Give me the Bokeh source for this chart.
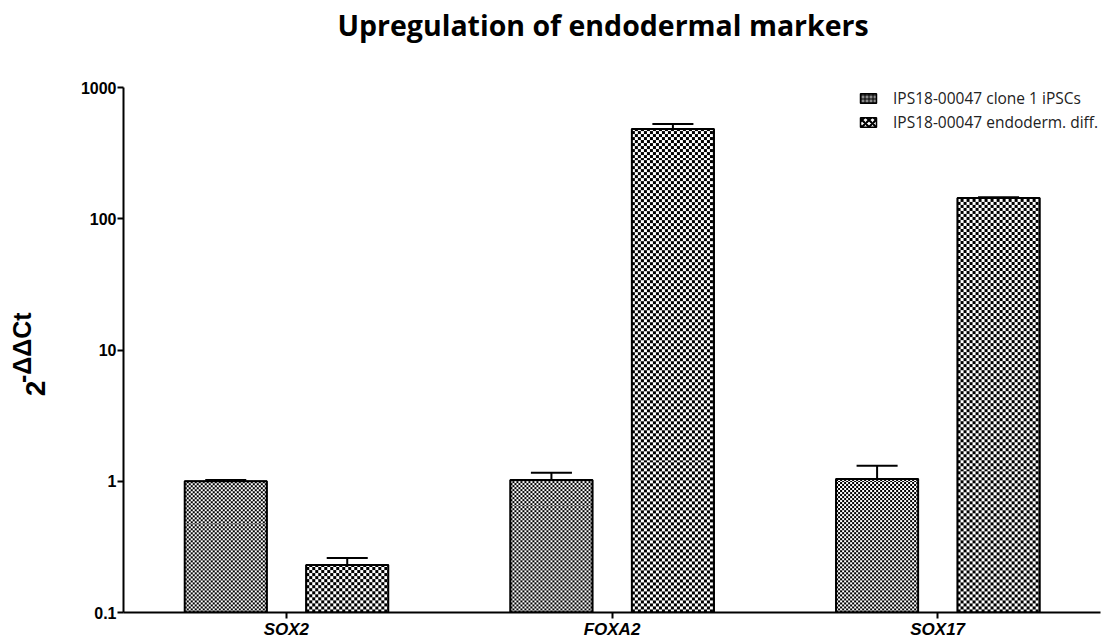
import numpy as np
from math import pi

from bokeh.plotting import figure
from bokeh.models import (FactorRange, Range1d, FixedTicker, CustomJSTickFormatter,
                          Label, Legend, LegendItem, ColumnDataSource, Title)
from bokeh.transform import dodge
from bokeh.embed import file_html
from bokeh.resources import INLINE

# ---------------- data ----------------
genes = ["SOX2", "FOXA2", "SOX17"]
series_names = ["IPS18-00047 clone 1 iPSCs", "IPS18-00047 endoderm. diff."]
ipsc_mean = [1.00, 1.02, 1.04]
ipsc_err_top = [1.02, 1.16, 1.31]
endo_mean = [0.23, 482, 144]
endo_err_top = [0.26, 526, 146]
y_ticks = [0.1, 1, 10, 100, 1000]
title_text = "Upregulation of endodermal markers"

# ---------------- layout / style ----------------
W, H = 1106, 641
BL, BR, BT, BB = 123, 6, 87, 27
y_lo, y_hi = 0.1, 1000
off1, off2, bw, cap = -0.186, 0.187, 0.252, 0.063

frame_w = W - BL - BR
frame_h = H - BT - BB
px_per_cat = frame_w / len(genes)
px_per_decade = frame_h / np.log10(y_hi / y_lo)


def checker(top, cell):
    h = max(1, int(round(np.log10(top / y_lo) * px_per_decade)))
    w = int(round(bw * px_per_cat))
    yy, xx = np.mgrid[0:h, 0:w]
    dark = ((xx // cell + yy // cell) % 2) == 0
    return np.where(dark, np.uint32(0xFF000000), np.uint32(0xFFFFFFFF)).astype(np.uint32)


src = ColumnDataSource(dict(
    gene=genes, ipsc=ipsc_mean, ipsc_err=ipsc_err_top, endo=endo_mean, endo_err=endo_err_top,
    ipsc_dh=[v - y_lo for v in ipsc_mean], endo_dh=[v - y_lo for v in endo_mean],
    ipsc_img=[checker(v, 2) for v in ipsc_mean],
    endo_img=[checker(v, 3) for v in endo_mean]))

p = figure(width=W, height=H,
           x_range=FactorRange(factors=genes, range_padding=0),
           y_range=Range1d(y_lo, y_hi), y_axis_type="log",
           output_backend="svg", toolbar_location=None,
           min_border_left=BL, min_border_right=BR, min_border_top=BT,
           min_border_bottom=BB)

# error bars (upper only)
for off, mkey, key in ((off1, "ipsc", "ipsc_err"), (off2, "endo", "endo_err")):
    p.segment(x0=dodge("gene", off, range=p.x_range), y0=mkey,
              x1=dodge("gene", off, range=p.x_range), y1=key,
              source=src, line_color="black", line_width=2)
    p.segment(x0=dodge("gene", off - cap, range=p.x_range), y0=key,
              x1=dodge("gene", off + cap, range=p.x_range), y1=key,
              source=src, line_color="black", line_width=2)

# hatched bars (also used for the legend swatches)
r1 = p.vbar(x=dodge("gene", off1, range=p.x_range), top="ipsc", bottom=y_lo, width=bw,
            source=src, fill_color="#8a8a8a", line_color="black", line_width=1.5,
            hatch_pattern="cross", hatch_color="black", hatch_scale=4, hatch_weight=1)
r2 = p.vbar(x=dodge("gene", off2, range=p.x_range), top="endo", bottom=y_lo, width=bw,
            source=src, fill_color="white", line_color="black", line_width=1.5,
            hatch_pattern="diagonal_cross", hatch_color="black", hatch_scale=7, hatch_weight=2.2)

# checkerboard fill of the bars
p.image_rgba(image="ipsc_img", x=dodge("gene", off1 - bw / 2, range=p.x_range), y=y_lo,
             dw=bw, dh="ipsc_dh", source=src)
p.image_rgba(image="endo_img", x=dodge("gene", off2 - bw / 2, range=p.x_range), y=y_lo,
             dw=bw, dh="endo_dh", source=src)

# bar outlines
for off, key in ((off1, "ipsc"), (off2, "endo")):
    p.vbar(x=dodge("gene", off, range=p.x_range), top=key, bottom=y_lo, width=bw,
           source=src, fill_color=None, line_color="black", line_width=2)

# axes
p.xgrid.visible = False
p.ygrid.visible = False
p.outline_line_color = None

xa = p.xaxis[0]
xa.axis_line_width = 2
xa.major_tick_line_width = 2
xa.major_tick_out = 6
xa.major_tick_in = 0
xa.minor_tick_line_color = None
xa.major_label_text_font = "Liberation Sans"
xa.major_label_text_font_style = "bold italic"
xa.major_label_text_font_size = "17px"
xa.major_label_text_color = "black"
xa.major_label_standoff = 1

ya = p.yaxis[0]
ya.ticker = FixedTicker(ticks=y_ticks, minor_ticks=[])
ya.formatter = CustomJSTickFormatter(code="return tick >= 1 ? tick.toFixed(0) : tick.toFixed(1);")
ya.axis_line_width = 2
ya.major_tick_line_width = 2
ya.major_tick_out = 6
ya.major_tick_in = 0
ya.minor_tick_line_color = None
ya.major_label_text_font = "Liberation Sans"
ya.major_label_text_font_style = "bold"
ya.major_label_text_font_size = "16px"
ya.major_label_text_color = "black"
ya.major_label_standoff = 1

# spacer between frame and title, then the title (outermost)
p.add_layout(Title(text="\u00a0", text_font_size="10px", standoff=31), "above")
p.title.text = title_text
p.title.align = "left"
p.title.offset = 214
p.title.vertical_align = "bottom"
p.title.text_font = "Open Sans"
p.title.text_font_style = "bold"
p.title.text_font_size = "28.5px"
p.title.text_color = "black"
p.title.standoff = 0

# y-axis label 2^-ΔΔCt, placed in the left side panel (x synthetic units, y data units)
p.add_layout(Label(x=-0.270, y=5.1, text="2",
                   angle=pi / 2, text_align="center", text_baseline="middle",
                   text_font="Liberation Sans", text_font_style="bold",
                   text_font_size="28px", text_color="black"), "left")
p.add_layout(Label(x=-0.311, y=10.4, text="-ΔΔCt",
                   angle=pi / 2, text_align="center", text_baseline="middle",
                   text_font="Liberation Sans", text_font_style="bold",
                   text_font_size="25px", text_color="black"), "left")

legend = Legend(items=[LegendItem(label=series_names[0], renderers=[r1]),
                       LegendItem(label=series_names[1], renderers=[r2])],
                location=(735, 479), border_line_color=None, background_fill_alpha=0,
                label_text_font="Open Sans", label_text_font_size="15.5px",
                label_text_color="#222222",
                glyph_width=20, glyph_height=12, label_standoff=15, spacing=2,
                label_height=20, padding=0, margin=0)
p.add_layout(legend)

open("out.html", "w").write(file_html(p, INLINE))
